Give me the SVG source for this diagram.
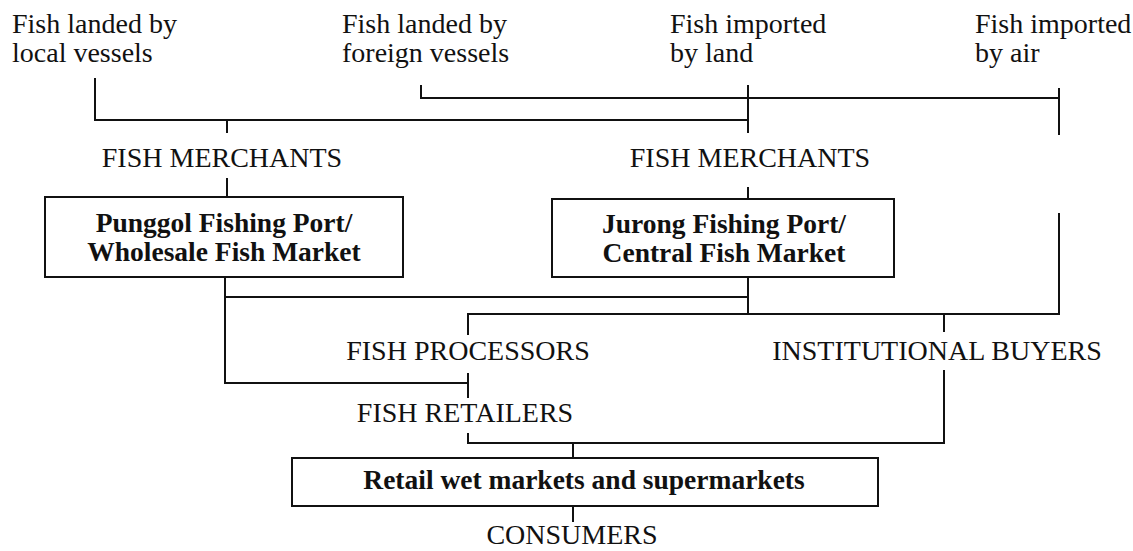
<svg xmlns="http://www.w3.org/2000/svg" width="1133" height="551" viewBox="0 0 1133 551">
<style>
.t{font-family:"Liberation Serif","Times New Roman",serif;font-size:28px;fill:#111}
.b{font-family:"Liberation Serif","Times New Roman",serif;font-size:27.5px;font-weight:bold;fill:#111;text-anchor:middle}
.m{text-anchor:middle}
.box{fill:#fff;stroke:#111;stroke-width:2}
.c{fill:none;stroke:#111;stroke-width:2}
</style>
<rect width="1133" height="551" fill="#fff"/>
<g id="connectors" class="c">
<path d="M95 78V120H748"/>
<path d="M227 120V133"/>
<path d="M421 85V98H1059"/>
<path d="M748 85V133"/>
<path d="M1059 88V135"/>
<path d="M227 178V197"/>
<path d="M748 187V199"/>
<path d="M1059 213V314H468V335"/>
<path d="M225 277V383H468"/>
<path d="M225 297H748"/>
<path d="M748 277V314"/>
<path d="M944 314V332"/>
<path d="M468 373V398"/>
<path d="M468 433V443H944V370"/>
<path d="M573 443V458"/>
<path d="M573 506V522"/>
</g>
<g id="src-local"><text class="t" x="12" y="33">Fish landed by</text><text class="t" x="12" y="62">local vessels</text></g>
<g id="src-foreign"><text class="t" x="342" y="33">Fish landed by</text><text class="t" x="342" y="62">foreign vessels</text></g>
<g id="src-land"><text class="t" x="670" y="33">Fish imported</text><text class="t" x="670" y="62">by land</text></g>
<g id="src-air"><text class="t" x="975" y="33">Fish imported</text><text class="t" x="975" y="62">by air</text></g>
<g id="merchants-1"><text class="t m" x="222" y="167">FISH MERCHANTS</text></g>
<g id="merchants-2"><text class="t m" x="750" y="167">FISH MERCHANTS</text></g>
<g id="punggol"><rect class="box" x="45" y="197" width="358" height="80"/><text class="b" x="224" y="232">Punggol Fishing Port/</text><text class="b" x="224" y="261">Wholesale Fish Market</text></g>
<g id="jurong"><rect class="box" x="552" y="199" width="342" height="78"/><text class="b" x="724" y="233">Jurong Fishing Port/</text><text class="b" x="724" y="262">Central Fish Market</text></g>
<g id="processors"><text class="t m" x="468" y="360">FISH PROCESSORS</text></g>
<g id="institutional"><text class="t m" x="937" y="360">INSTITUTIONAL BUYERS</text></g>
<g id="retailers"><text class="t m" x="465" y="422">FISH RETAILERS</text></g>
<g id="retail-markets"><rect class="box" x="292" y="458" width="586" height="48"/><text class="b" x="584" y="489">Retail wet markets and supermarkets</text></g>
<g id="consumers"><text class="t m" x="572" y="544">CONSUMERS</text></g>
</svg>
